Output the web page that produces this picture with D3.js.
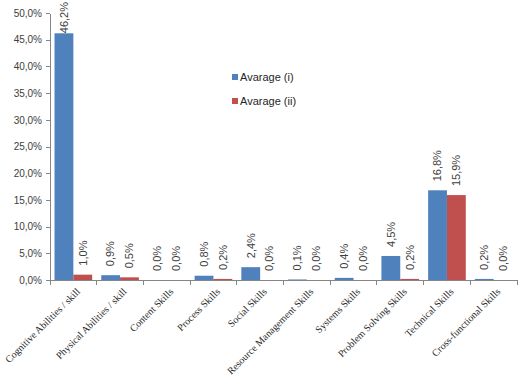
<script src="https://cdn.jsdelivr.net/npm/d3@7"></script>
<style>
    body { margin: 0; background: #fff; }
    .axis path, .axis line { stroke: #868686; shape-rendering: crispEdges; }
    .y-axis text { font-family: "Liberation Sans", Arial, sans-serif; font-size: 10px; fill: #404040; }
    .x-axis text { font-family: "Liberation Serif", "Times New Roman", serif; font-size: 10px; fill: #262626; }
    .val-label { font-family: "Liberation Sans", Arial, sans-serif; font-size: 11px; fill: #404040; }
    .legend text { font-family: "Liberation Sans", Arial, sans-serif; font-size: 11px; fill: #262626; }
</style>
<svg id="chart" width="522" height="375"></svg>
<script>
    // categories and series (values in %)
    const categories = ["Cognitive Abilities / skill", "Physical Abilities / skill", "Content Skills",
        "Process Skills", "Social Skills", "Resource Management Skills", "Systems Skills",
        "Problem Solving Skills", "Technical Skills", "Cross-functional Skills"];
    const seriesNames = ["Avarage (i)", "Avarage (ii)"];
    const avarageI = [46.2, 0.9, 0.0, 0.8, 2.4, 0.1, 0.4, 4.5, 16.8, 0.2];
    const avarageII = [1.0, 0.5, 0.0, 0.2, 0.0, 0.0, 0.0, 0.2, 15.9, 0.0];
    const yTicks = [0, 5, 10, 15, 20, 25, 30, 35, 40, 45, 50];
    const colors = ["#4F81BD", "#C0504D"];

    const svg = d3.select("#chart");
    const mLeft = 50, mRight = 517, mTop = 13, mBottom = 280;

    const x = d3.scaleBand().domain(categories).range([mLeft, mRight]).paddingInner(0).paddingOuter(0);
    const xs = d3.scaleBand().domain(seriesNames).range([0, x.bandwidth()]).paddingInner(0).paddingOuter(0.24);
    const y = d3.scaleLinear().domain([0, 50]).range([mBottom, mTop]);

    const fmt = v => d3.format(".1f")(v).replace(".", ",") + "%";

    // y axis
    svg.append("g")
        .attr("class", "axis y-axis")
        .attr("transform", `translate(${mLeft},0)`)
        .call(d3.axisLeft(y).tickValues(yTicks).tickSize(4).tickSizeOuter(0).tickPadding(4).tickFormat(fmt));

    // x axis with ticks at category boundaries
    const xAxis = svg.append("g")
        .attr("class", "axis x-axis")
        .attr("transform", `translate(0,${mBottom})`);
    xAxis.append("line").attr("x1", mLeft).attr("x2", mRight).attr("y1", 0).attr("y2", 0);
    xAxis.selectAll(".tick-line")
        .data(categories.concat(["end"]))
        .enter()
        .append("line")
        .attr("x1", (d, i) => mLeft + i * x.step())
        .attr("x2", (d, i) => mLeft + i * x.step())
        .attr("y1", 0).attr("y2", 5);
    xAxis.selectAll("text")
        .data(categories)
        .enter()
        .append("text")
        .attr("transform", d => `translate(${x(d) + x.bandwidth() / 2 + 3},8) rotate(-45)`)
        .attr("text-anchor", "end")
        .attr("dy", "0.6em")
        .text(d => d);

    // bars
    const seriesData = [avarageI, avarageII];
    seriesData.forEach((vals, s) => {
        const g = svg.append("g");
        g.selectAll("rect")
            .data(vals)
            .enter()
            .append("rect")
            .attr("x", (d, i) => x(categories[i]) + xs(seriesNames[s]))
            .attr("y", d => y(d))
            .attr("width", xs.bandwidth())
            .attr("height", d => mBottom - y(d))
            .attr("fill", colors[s]);
        g.selectAll("text")
            .data(vals)
            .enter()
            .append("text")
            .attr("class", "val-label")
            .attr("dy", "0.35em")
            .text(d => fmt(d))
            .attr("transform", function (d, i) {
                const len = this.getComputedTextLength();
                const yy = Math.max(y(d) - 9, len + 2);
                return `translate(${x(categories[i]) + xs(seriesNames[s]) + xs.bandwidth() / 2},${yy}) rotate(-90)`;
            });
    });

    // legend
    const legend = svg.append("g").attr("class", "legend");
    seriesNames.forEach((name, i) => {
        const ly = 77 + i * 24;
        legend.append("rect").attr("x", 232).attr("y", ly - 3).attr("width", 6).attr("height", 6).attr("fill", colors[i]);
        legend.append("text").attr("x", 240).attr("y", ly).attr("dy", "0.35em").text(name);
    });
</script>
